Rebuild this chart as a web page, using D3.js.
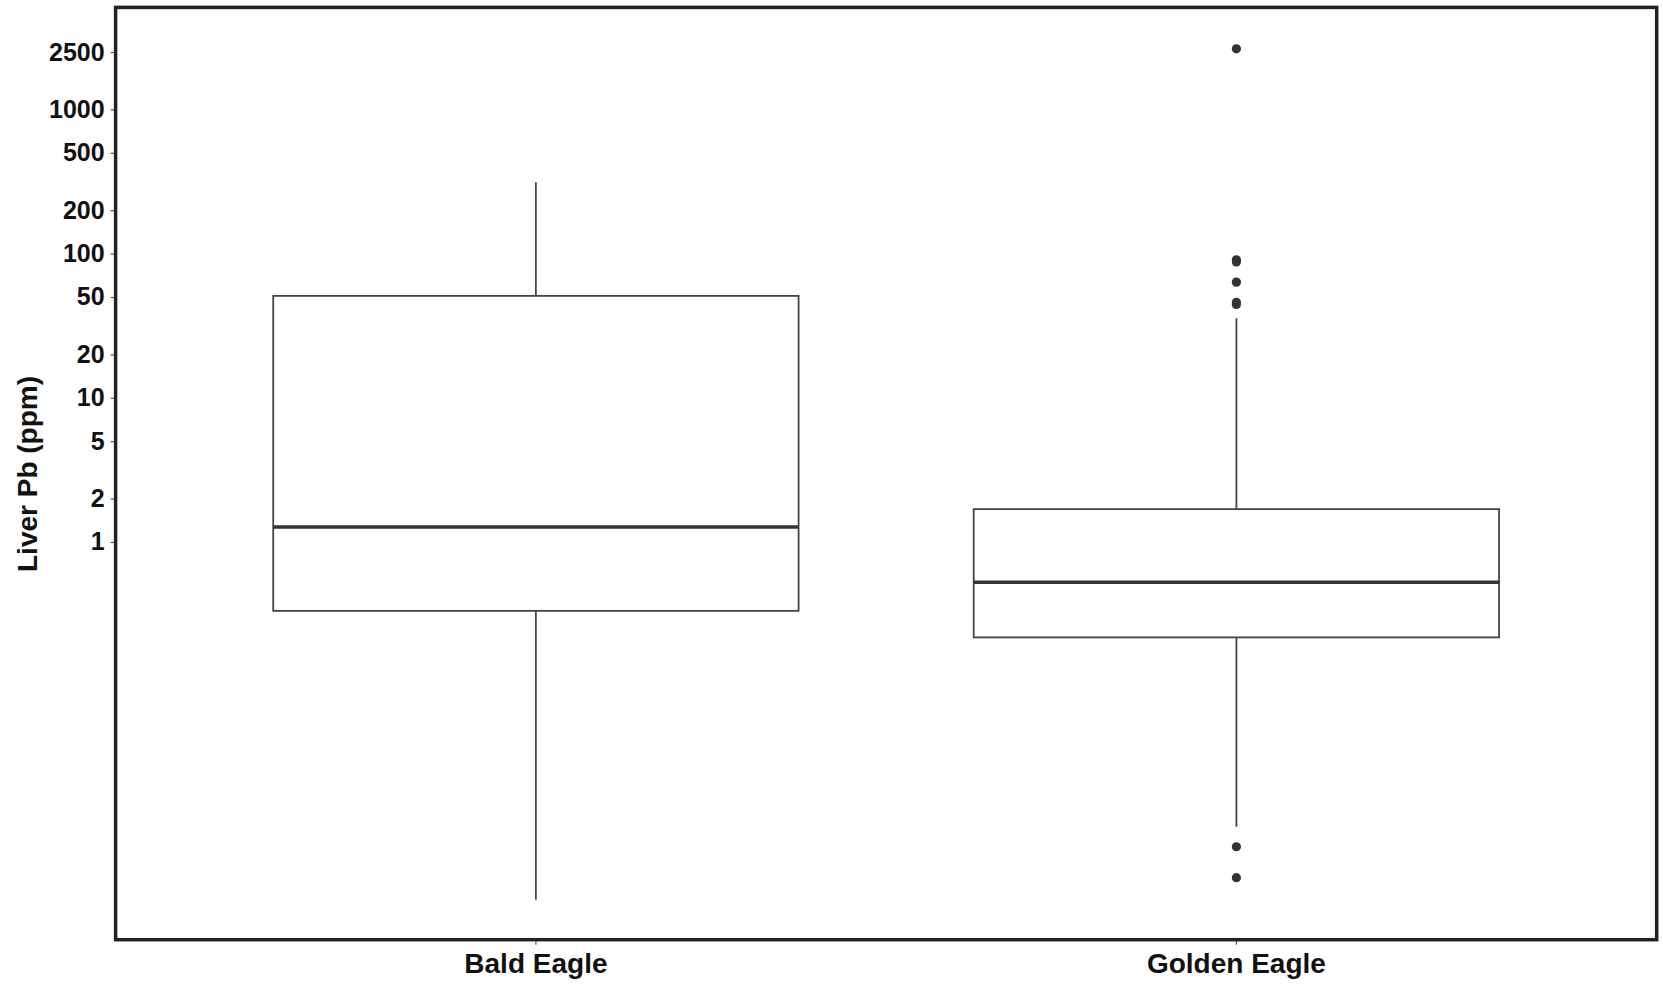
<!DOCTYPE html>
<html>
<head>
<meta charset="utf-8">
<script src="https://cdn.jsdelivr.net/npm/d3@7"></script>
<style>
  body { margin: 0; background: #fff; }
  text { font-family: "Liberation Sans", Arial, sans-serif; font-weight: bold; fill: #111; }
</style>
</head>
<body>
<div id="chart"></div>
<script>
// box stats (ppm)
const species = ["Bald Eagle", "Golden Eagle"];
const whiskerLow = [0.0033, 0.0106];
const q1 = [0.333, 0.218];
const median = [1.27, 0.525];
const q3 = [50.9, 1.69];
const whiskerHigh = [312, 35.6];
const outliers = [
  [],
  [2630, 90.6, 87.5, 63.4, 45.9, 44.4, 0.0077, 0.0047]
];
const yTicks = [1, 2, 5, 10, 20, 50, 100, 200, 500, 1000, 2500];

const width = 1663, height = 984;
const panel = { left: 115.6, right: 1656.7, top: 7.4, bottom: 939.7 };

const svg = d3.select("#chart").append("svg")
  .attr("width", width)
  .attr("height", height);

const x = d3.scaleBand()
  .domain(species)
  .range([panel.left, panel.right])
  .paddingInner(0.25)
  .paddingOuter(0.225);

const y = d3.scaleLog()
  .domain([0.001746, 5096])
  .range([panel.bottom, panel.top]);

// axes
const yAxis = svg.append("g")
  .attr("transform", `translate(${panel.left},0)`)
  .call(d3.axisLeft(y).tickValues(yTicks).tickFormat(d3.format("d")).tickSize(5).tickPadding(6));
yAxis.select(".domain").remove();
yAxis.selectAll(".tick line").attr("stroke", "#555").attr("stroke-width", 1.2);
yAxis.selectAll(".tick text").attr("font-size", 25).attr("fill", "#111");

const xAxis = svg.append("g")
  .attr("transform", `translate(0,${panel.bottom})`)
  .call(d3.axisBottom(x).tickSize(5).tickPadding(8));
xAxis.select(".domain").remove();
xAxis.selectAll(".tick line").attr("stroke", "#555").attr("stroke-width", 1.2);
xAxis.selectAll(".tick text").attr("font-size", 28).attr("fill", "#111");

// boxes
const bw = x.bandwidth();
species.forEach((s, i) => {
  const cx = x(s) + bw / 2;
  const g = svg.append("g");
  g.append("line")
    .attr("x1", cx).attr("x2", cx)
    .attr("y1", y(q3[i])).attr("y2", y(whiskerHigh[i]))
    .attr("stroke", "#444").attr("stroke-width", 1.8);
  g.append("line")
    .attr("x1", cx).attr("x2", cx)
    .attr("y1", y(q1[i])).attr("y2", y(whiskerLow[i]))
    .attr("stroke", "#444").attr("stroke-width", 1.8);
  g.append("rect")
    .attr("x", x(s)).attr("width", bw)
    .attr("y", y(q3[i])).attr("height", y(q1[i]) - y(q3[i]))
    .attr("fill", "#fff").attr("stroke", "#444").attr("stroke-width", 1.8);
  g.append("line")
    .attr("x1", x(s)).attr("x2", x(s) + bw)
    .attr("y1", y(median[i])).attr("y2", y(median[i]))
    .attr("stroke", "#333").attr("stroke-width", 3.5);
  g.selectAll("circle")
    .data(outliers[i])
    .join("circle")
    .attr("cx", cx)
    .attr("cy", d => y(d))
    .attr("r", 4.6)
    .attr("fill", "#333");
});

// panel border
svg.append("rect")
  .attr("x", panel.left).attr("y", panel.top)
  .attr("width", panel.right - panel.left)
  .attr("height", panel.bottom - panel.top)
  .attr("fill", "none").attr("stroke", "#222").attr("stroke-width", 3.5);

// y title
svg.append("text")
  .attr("transform", "translate(30,474) rotate(-90)")
  .attr("text-anchor", "middle")
  .attr("dominant-baseline", "middle")
  .attr("font-size", 28)
  .text("Liver Pb (ppm)");
</script>
</body>
</html>
